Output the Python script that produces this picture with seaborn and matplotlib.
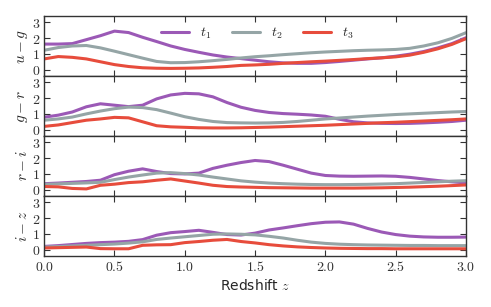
import matplotlib
matplotlib.use('Agg')
import matplotlib.pyplot as plt
import matplotlib.ticker as mticker
import numpy as np
import pandas as pd
import seaborn as sns

# redshift grid
z = [round(0.1 * i, 1) for i in range(31)]

colors_names = ['u - g', 'g - r', 'r - i', 'i - z']
templates = ['$t_1$', '$t_2$', '$t_3$']

# u - g
ug_t1 = [1.62, 1.62, 1.65, 1.9, 2.15, 2.44, 2.35, 2.05, 1.78, 1.5, 1.28, 1.1, 0.93, 0.8, 0.7, 0.6,
         0.5, 0.43, 0.4, 0.4, 0.45, 0.52, 0.6, 0.68, 0.75, 0.85, 0.98, 1.15, 1.38, 1.65, 2.02]
ug_t2 = [1.23, 1.4, 1.5, 1.53, 1.38, 1.17, 0.95, 0.73, 0.52, 0.44, 0.45, 0.5, 0.57, 0.65, 0.74, 0.82,
         0.88, 0.95, 1.01, 1.07, 1.12, 1.16, 1.2, 1.23, 1.25, 1.28, 1.35, 1.5, 1.7, 1.98, 2.34]
ug_t3 = [0.68, 0.83, 0.78, 0.68, 0.5, 0.32, 0.2, 0.12, 0.09, 0.08, 0.09, 0.11, 0.15, 0.2, 0.27, 0.3,
         0.34, 0.4, 0.45, 0.5, 0.54, 0.59, 0.64, 0.7, 0.75, 0.81, 0.92, 1.1, 1.32, 1.6, 1.96]

# g - r
gr_t1 = [0.79, 0.92, 1.12, 1.45, 1.64, 1.55, 1.46, 1.55, 1.95, 2.2, 2.3, 2.27, 2.08, 1.72, 1.42, 1.22,
         1.09, 1.02, 0.98, 0.93, 0.85, 0.66, 0.5, 0.43, 0.4, 0.39, 0.4, 0.43, 0.47, 0.52, 0.6]
gr_t2 = [0.6, 0.68, 0.8, 1.0, 1.18, 1.33, 1.43, 1.4, 1.27, 1.05, 0.82, 0.65, 0.52, 0.45, 0.43, 0.42,
         0.43, 0.46, 0.52, 0.6, 0.68, 0.74, 0.8, 0.86, 0.91, 0.96, 1.0, 1.04, 1.08, 1.12, 1.15]
gr_t3 = [0.21, 0.3, 0.45, 0.6, 0.68, 0.78, 0.75, 0.5, 0.25, 0.18, 0.15, 0.12, 0.11, 0.11, 0.12, 0.14,
         0.16, 0.19, 0.22, 0.25, 0.28, 0.32, 0.36, 0.4, 0.44, 0.47, 0.51, 0.55, 0.59, 0.63, 0.68]

# r - i
ri_t1 = [0.38, 0.42, 0.47, 0.52, 0.6, 0.95, 1.17, 1.32, 1.15, 1.02, 1.0, 1.05, 1.35, 1.55, 1.72, 1.85,
         1.78, 1.55, 1.3, 1.05, 0.9, 0.86, 0.85, 0.86, 0.87, 0.85, 0.78, 0.68, 0.58, 0.5, 0.43]
ri_t2 = [0.34, 0.37, 0.4, 0.43, 0.47, 0.64, 0.8, 0.93, 1.05, 1.08, 1.02, 0.93, 0.8, 0.68, 0.56, 0.48,
         0.42, 0.38, 0.35, 0.33, 0.32, 0.32, 0.33, 0.34, 0.36, 0.38, 0.42, 0.46, 0.5, 0.54, 0.57]
ri_t3 = [0.2, 0.18, 0.08, 0.05, 0.28, 0.35, 0.45, 0.5, 0.6, 0.68, 0.55, 0.42, 0.28, 0.2, 0.17, 0.15,
         0.13, 0.12, 0.11, 0.1, 0.1, 0.1, 0.1, 0.11, 0.12, 0.14, 0.16, 0.19, 0.22, 0.26, 0.3]

# i - z
iz_t1 = [0.21, 0.26, 0.33, 0.4, 0.45, 0.48, 0.53, 0.64, 0.92, 1.08, 1.15, 1.23, 1.1, 0.96, 0.93, 1.05,
         1.25, 1.38, 1.52, 1.65, 1.74, 1.76, 1.62, 1.35, 1.12, 0.96, 0.86, 0.81, 0.79, 0.79, 0.8]
iz_t2 = [0.17, 0.2, 0.24, 0.28, 0.32, 0.36, 0.42, 0.5, 0.65, 0.74, 0.82, 0.9, 0.98, 1.0, 0.98, 0.94,
         0.85, 0.74, 0.6, 0.48, 0.4, 0.35, 0.32, 0.3, 0.29, 0.28, 0.27, 0.27, 0.26, 0.26, 0.26]
iz_t3 = [0.11, 0.13, 0.15, 0.17, 0.07, 0.06, 0.06, 0.28, 0.31, 0.32, 0.45, 0.52, 0.6, 0.65, 0.52, 0.43,
         0.32, 0.24, 0.18, 0.14, 0.11, 0.09, 0.08, 0.07, 0.07, 0.06, 0.06, 0.06, 0.06, 0.06, 0.06]

series = {
    'u - g': [ug_t1, ug_t2, ug_t3],
    'g - r': [gr_t1, gr_t2, gr_t3],
    'r - i': [ri_t1, ri_t2, ri_t3],
    'i - z': [iz_t1, iz_t2, iz_t3],
}

palette = ['#9b59b6', '#95a5a6', '#e74c3c']

rows = []
for c in colors_names:
    for t, vals in zip(templates, series[c]):
        for zi, v in zip(z, vals):
            rows.append({'color': c, 'template': t, 'z': zi, 'value': v})
df = pd.DataFrame(rows)

sns.set_style('ticks')
plt.rcParams['mathtext.fontset'] = 'cm'
plt.rcParams['font.family'] = ['DejaVu Sans']

fig, axes = plt.subplots(4, 1, figsize=(4.91, 3.07), dpi=100, sharex=True)
fig.subplots_adjust(left=0.09, right=0.949, top=0.948, bottom=0.166, hspace=0)

for i, (ax, c) in enumerate(zip(axes, colors_names)):
    sub = df[df['color'] == c]
    sns.lineplot(data=sub, x='z', y='value', hue='template', palette=palette,
                 hue_order=templates, linewidth=2.2, ax=ax, legend=(i == 0))
    ax.set_xlim(0, 3.0)
    ax.set_ylim(-0.4, 3.4)
    ax.set_ylabel('$' + c.replace(' ', '') + '$', fontsize=11, labelpad=1)
    ax.set_xlabel('')
    ax.set_yticks([0, 1, 2, 3])
    ax.set_xticks([0.0, 0.5, 1.0, 1.5, 2.0, 2.5, 3.0])
    ax.yaxis.set_major_formatter(mticker.FormatStrFormatter('$%d$'))
    ax.xaxis.set_major_formatter(mticker.FormatStrFormatter('$%.1f$'))
    ax.tick_params(direction='in', top=True, right=True, length=4, width=0.8,
                   color='#333333', labelcolor='#333333', labelsize=10, pad=3)
    for sp in ax.spines.values():
        sp.set_visible(True)
        sp.set_color('#333333')
        sp.set_linewidth(1.0)

leg = axes[0].legend(loc='upper center', bbox_to_anchor=(0.505, 1.04), ncol=3, frameon=False,
                     fontsize=10, handlelength=2.0, columnspacing=1.5, handletextpad=0.8)
for line in leg.get_lines():
    line.set_linewidth(2.2)

axes[-1].set_xlabel('Redshift $z$', fontsize=10, labelpad=3)

fig.savefig('out.png', dpi=100)
